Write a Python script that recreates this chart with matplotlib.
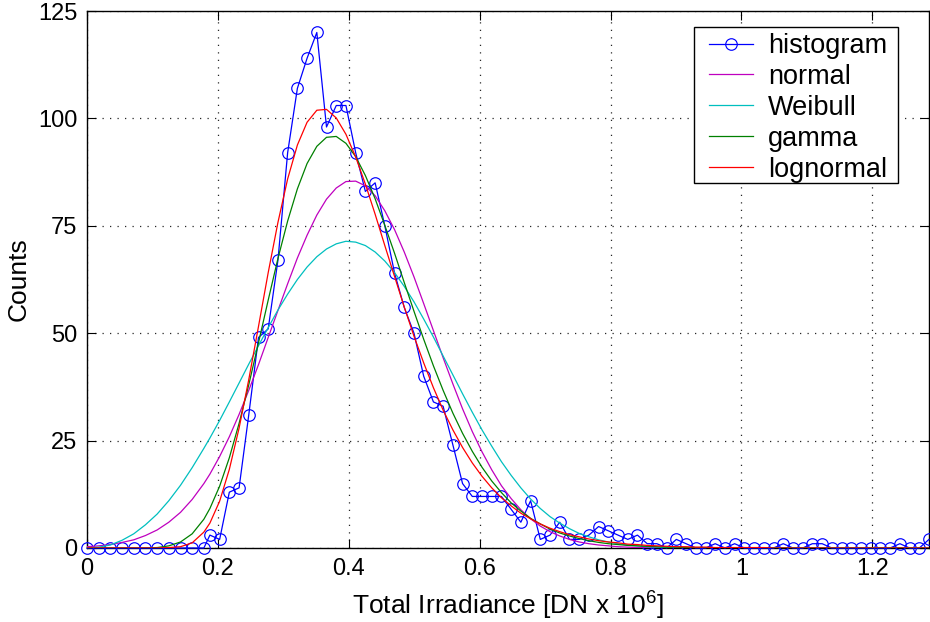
import matplotlib
matplotlib.use("Agg")
import matplotlib.pyplot as plt
from matplotlib.patches import Rectangle

# ---- data ----
x_vals = [0.0, 0.0179, 0.0357, 0.0536, 0.0714, 0.0893, 0.1072, 0.125, 0.1429, 0.1607, 0.1786,
          0.1878, 0.2027, 0.2175, 0.2324, 0.2472, 0.2621, 0.2769, 0.2918, 0.3066, 0.3215,
          0.3363, 0.3512, 0.3660, 0.3809, 0.3957, 0.4106, 0.4254, 0.4403, 0.4551, 0.4700,
          0.4848, 0.4997, 0.5145, 0.5294, 0.5442, 0.5591, 0.5739, 0.5888, 0.6036, 0.6185,
          0.6333, 0.6482, 0.6630, 0.6779, 0.6927, 0.7076, 0.7224, 0.7373, 0.7521, 0.7670,
          0.7818, 0.7967, 0.8115, 0.8264, 0.8412, 0.8561, 0.8709, 0.8858, 0.9006, 0.9155,
          0.9303, 0.9452, 0.9600, 0.9749, 0.9897, 1.0046, 1.0194, 1.0343, 1.0491, 1.0640,
          1.0788, 1.0937, 1.1085, 1.1234, 1.1382, 1.1531, 1.1679, 1.1828, 1.1976, 1.2125,
          1.2273, 1.2422, 1.2570, 1.2719, 1.2867]

hist_counts = [0] * 11 + [
    3, 2, 13, 14, 31, 49, 51, 67, 92, 107, 114, 120, 98, 103, 103, 92, 83, 85, 75, 64,
    56, 50, 40, 34, 33, 24, 15, 12, 12, 12, 12, 9, 6, 11, 2, 3, 6, 2, 2, 3,
    5, 4, 3, 2, 3, 1, 1, 0, 2, 1, 0, 0, 1, 0, 1, 0, 0, 0, 0, 1,
    0, 0, 1, 1, 0, 0, 0, 0, 0, 0, 0, 1, 0, 0, 2]

normal_fit = [
    0.3, 0.5, 0.8, 1.3, 1.9, 2.9, 4.2, 6.0, 8.3, 11.3, 15.0, 17.2, 21.3, 25.9, 31.1,
    36.7, 42.7, 49.0, 55.3, 61.5, 67.5, 72.8, 77.5, 81.2, 83.8, 85.3, 85.4, 84.3, 82.0, 78.5,
    74.1, 68.9, 63.1, 56.9, 50.6, 44.3, 38.2, 32.4, 27.1, 22.4, 18.2, 14.5, 11.5, 8.9, 6.8,
    5.1, 3.8, 2.8, 2.0, 1.4, 1.0, 0.7, 0.5, 0.3, 0.2, 0.1, 0.1, 0.1, 0.0, 0.0] + [0.0] * 26

weibull_fit = [
    0.0, 0.2, 0.7, 1.8, 3.3, 5.4, 7.9, 11.0, 14.6, 18.7, 23.2, 25.6, 29.7, 34.0, 38.4,
    42.8, 47.1, 51.3, 55.4, 59.1, 62.5, 65.4, 67.8, 69.6, 70.8, 71.4, 71.2, 70.4, 68.9, 66.8,
    64.1, 60.9, 57.3, 53.3, 49.1, 44.7, 40.3, 35.9, 31.6, 27.5, 23.7, 20.1, 16.9, 14.0, 11.4,
    9.2, 7.3, 5.8, 4.5, 3.4, 2.6, 1.9, 1.4, 1.0, 0.7, 0.5, 0.3, 0.2, 0.1, 0.1,
    0.1] + [0.0] * 25

gamma_fit = [
    0.0, 0.0, 0.0, 0.0, 0.0, 0.0, 0.1, 0.5, 1.4, 3.3, 6.7, 9.2, 14.4, 21.0, 29.0,
    38.0, 47.8, 57.7, 67.4, 76.1, 83.6, 89.5, 93.5, 95.6, 95.8, 94.2, 91.1, 86.7, 81.3, 75.1,
    68.6, 61.8, 55.1, 48.6, 42.4, 36.7, 31.4, 26.7, 22.5, 18.8, 15.6, 12.9, 10.5, 8.6, 6.9,
    5.6, 4.4, 3.5, 2.8, 2.2, 1.7, 1.3, 1.0, 0.8, 0.6, 0.5, 0.4, 0.3, 0.2, 0.2,
    0.1, 0.1, 0.1] + [0.0] * 23

lognormal_fit = [
    0.0, 0.0, 0.0, 0.0, 0.0, 0.0, 0.0, 0.1, 0.3, 1.2, 3.7, 5.8, 10.9, 18.3, 27.9,
    39.2, 51.6, 64.1, 75.8, 85.9, 93.8, 99.1, 101.9, 102.1, 100.1, 96.3, 91.0, 84.7, 77.7, 70.4,
    63.2, 56.1, 49.3, 43.1, 37.3, 32.1, 27.5, 23.4, 19.8, 16.7, 14.0, 11.7, 9.8, 8.1, 6.8,
    5.6, 4.6, 3.8, 3.1, 2.6, 2.1, 1.7, 1.4, 1.2, 0.9, 0.8, 0.6, 0.5, 0.4, 0.3,
    0.3, 0.2, 0.2, 0.1, 0.1, 0.1, 0.1, 0.1, 0.1] + [0.0] * 17

series_labels = ["histogram", "normal", "Weibull", "gamma", "lognormal"]
x_ticks = [0, 0.2, 0.4, 0.6, 0.8, 1.0, 1.2]
x_tick_labels = ["0", "0.2", "0.4", "0.6", "0.8", "1", "1.2"]
y_ticks = [0, 25, 50, 75, 100, 125]

# ---- styling ----
plt.rcParams["font.family"] = ["Liberation Sans", "DejaVu Sans"]
plt.rcParams["mathtext.fontset"] = "custom"
plt.rcParams["mathtext.rm"] = "Liberation Sans"
plt.rcParams["mathtext.default"] = "regular"

fig = plt.figure(figsize=(9.3, 6.22), dpi=100)
ax = fig.add_axes([87 / 930, 74 / 622, 842 / 930, 537 / 622])

lw = 0.9
ax.plot(x_vals, hist_counts, color=(0, 0, 1), lw=lw, marker="o", ms=8.3,
        mfc="none", mec=(0, 0, 1), mew=0.85, clip_on=False, zorder=3,
        label=series_labels[0])
ax.plot(x_vals, normal_fit, color=(0.75, 0, 0.75), lw=lw, label=series_labels[1], zorder=4)
ax.plot(x_vals, weibull_fit, color=(0, 0.75, 0.75), lw=lw, label=series_labels[2], zorder=4)
ax.plot(x_vals, gamma_fit, color=(0, 0.5, 0), lw=lw, label=series_labels[3], zorder=4)
ax.plot(x_vals, lognormal_fit, color=(1, 0, 0), lw=lw, label=series_labels[4], zorder=4)

ax.set_xlim(0, x_vals[-1])
ax.set_ylim(0, 125)
ax.set_xticks(x_ticks)
ax.set_xticklabels(x_tick_labels)
ax.set_yticks(y_ticks)
ax.tick_params(direction="in", length=6.5, width=0.8, top=True, right=True,
               labelsize=17, pad=7, colors="black")
ax.grid(True, color="0.15", linestyle=(0, (1, 5)), linewidth=0.9)
for sp in ax.spines.values():
    sp.set_linewidth(1.0)
    sp.set_color("black")

ax.set_xlabel("Total Irradiance [DN x 10$^6$]", fontsize=19, labelpad=7)
ax.set_ylabel("Counts", fontsize=19, labelpad=5)

# legend frame (MATLAB-style box) and legend entries
frame = Rectangle((0.721, 0.680), 0.242, 0.290, transform=ax.transAxes,
                  facecolor="white", edgecolor="black", linewidth=1.0, zorder=4.9)
ax.add_patch(frame)
leg = ax.legend(loc="upper left", bbox_to_anchor=(0.7387, 0.959), fontsize=19.5,
                frameon=False, borderpad=0, labelspacing=0.18,
                handlelength=1.63, handletextpad=0.55, numpoints=1,
                borderaxespad=0)
leg.set_zorder(5)

fig.savefig("out.png", dpi=100)
